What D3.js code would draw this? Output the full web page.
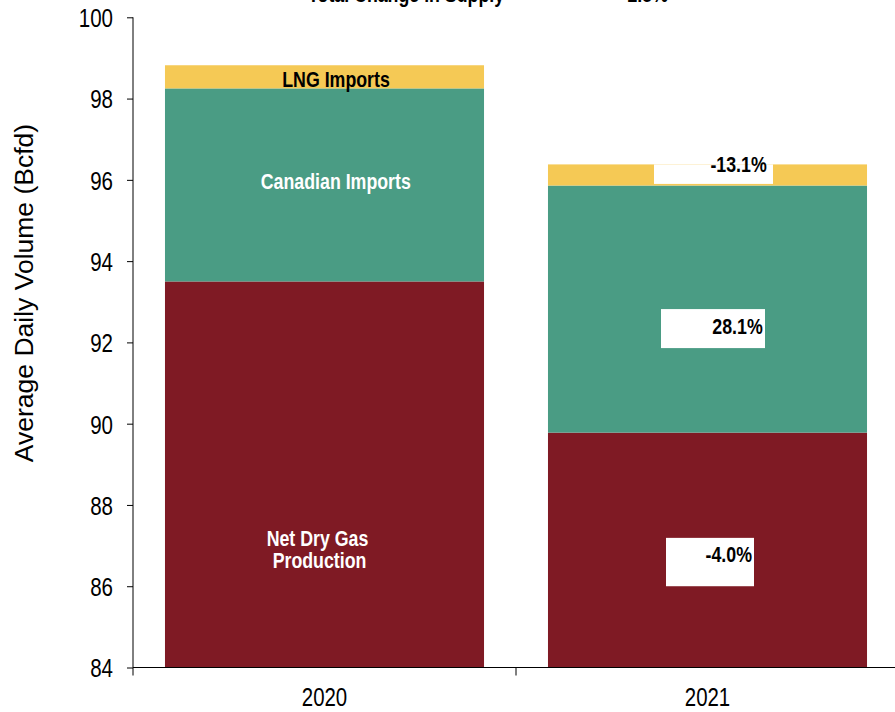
<!DOCTYPE html>
<html><head><meta charset="utf-8">
<script src="https://cdn.jsdelivr.net/npm/d3@7"></script>
<style>
html,body{margin:0;padding:0;background:#fff;}
svg{display:block;}
text{font-family:"Liberation Sans",Arial,sans-serif;}
</style></head>
<body>
<svg id="chart" width="895" height="712"></svg>
<script>
// ---- data ----
const years = ["2020", "2021"];
const seriesNames = ["Net Dry Gas Production", "Canadian Imports", "LNG Imports"];
const production = [93.5, 89.78];
const canadian = [4.75, 6.08];
const lng = [0.57, 0.52];
const yTicks = [84, 86, 88, 90, 92, 94, 96, 98, 100];
const pctLabels = ["-4.0%", "28.1%", "-13.1%"];
const totalLabel = "Total Change in Supply";
const totalPct = "-2.5%";

const colors = ["#7F1A24", "#4A9C84", "#F5C955"];
const SX = 0.79;   // horizontal condensing (narrow face look)

const svg = d3.select("#chart");
const x = d3.scaleBand().domain(years).range([133, 899]).paddingInner(0.167).paddingOuter(0.0835);
const y = d3.scaleLinear().domain([84, 100]).range([667.5, 17.3]);

const rows = years.map((yr, i) => ({year: yr, s0: production[i], s1: canadian[i], s2: lng[i]}));
const stacked = d3.stack().keys(["s0", "s1", "s2"])(rows);

// bars
svg.append("g").selectAll("g").data(stacked).join("g")
  .attr("fill", (d, i) => colors[i])
  .selectAll("rect").data(d => d).join("rect")
  .attr("x", d => x(d.data.year))
  .attr("width", x.bandwidth())
  .attr("y", d => y(d[1]))
  .attr("height", d => y(Math.max(d[0], 84)) - y(d[1]));

// axes
const yAxis = svg.append("g").attr("transform", "translate(133,0)")
  .call(d3.axisLeft(y).tickValues(yTicks).tickSize(6).tickFormat(d3.format("d")));
yAxis.select(".domain").attr("d", `M0,${y(100)}V${y(84)}`).attr("stroke", "#000");
yAxis.selectAll(".tick line").attr("stroke", "#000");
yAxis.selectAll(".tick text")
  .attr("x", null).attr("dy", "0.36em")
  .attr("transform", `translate(-20,0) scale(${SX},1)`)
  .attr("font-size", 26).attr("fill", "#000")
  .attr("font-family", "'Liberation Sans', Arial, sans-serif");

const xAxis = svg.append("g").attr("transform", `translate(0,${y(84)})`);
xAxis.append("line").attr("x1", 133).attr("x2", 899).attr("stroke", "#000");
const bounds = [133, x("2021") - x.step() * x.paddingInner() / 2, 899];
xAxis.selectAll("line.tk").data(bounds).join("line").attr("class", "tk")
  .attr("x1", d => d).attr("x2", d => d).attr("y1", 0).attr("y2", 8).attr("stroke", "#000");
xAxis.selectAll("text").data(years).join("text")
  .attr("font-size", 25.5)
  .attr("transform", d => `translate(${x(d) + x.bandwidth() / 2},38.5) scale(${SX + 0.01},1)`)
  .attr("text-anchor", "middle").text(d => d);

// y title
svg.append("text")
  .attr("transform", `translate(33,293) rotate(-90)`)
  .attr("text-anchor", "middle")
  .attr("font-size", 26.5)
  .text("Average Daily Volume (Bcfd)");

// segment labels on 2020 bar
const c0 = x("2020") + x.bandwidth() / 2;
const segLabels = [
  {t: "LNG Imports", dx: 11.5, v: 98.28, fill: "#000"},
  {t: "Canadian Imports", dx: 11.3, v: 95.77, fill: "#fff"},
  {t: "Net Dry Gas", dx: -7, v: 86.99, fill: "#fff"},
  {t: "Production", dx: -5, v: 86.44, fill: "#fff"}
];
svg.append("g").selectAll("text").data(segLabels).join("text")
  .attr("font-weight", "bold").attr("font-size", 22.5)
  .attr("text-anchor", "middle").attr("fill", d => d.fill)
  .attr("transform", d => `translate(${c0 + d.dx},${y(d.v)}) scale(${SX},1)`)
  .text(d => d.t);

// percent change boxes on 2021 bar
const c1 = x("2021") + x.bandwidth() / 2;
const boxes = [
  {t: pctLabels[0], l: -41.5, r: 46.5, top: 87.19, bot: 86.0, tx: 44.5, base: 86.60},
  {t: pctLabels[1], l: -46.5, r: 57.5, top: 92.82, bot: 91.86, tx: 55.2, base: 92.2},
  {t: pctLabels[2], l: -53.5, r: 65.5, top: 96.38, bot: 95.9, tx: 59.2, base: 96.2}
];
const bg = svg.append("g");
bg.selectAll("rect").data(boxes).join("rect")
  .attr("fill", "#fff")
  .attr("x", d => c1 + d.l).attr("width", d => d.r - d.l)
  .attr("y", d => y(d.top)).attr("height", d => y(d.bot) - y(d.top));
bg.selectAll("text").data(boxes).join("text")
  .attr("font-weight", "bold").attr("font-size", 22.5)
  .attr("text-anchor", "end")
  .attr("transform", d => `translate(${c1 + d.tx},${y(d.base)}) scale(${SX},1)`)
  .text(d => d.t);

// total change header (partially clipped at top, as in the source)
svg.append("text").attr("font-weight", "bold").attr("font-size", 22.5)
  .attr("transform", `translate(308,2) scale(${SX},1)`).text(totalLabel);
svg.append("text").attr("font-weight", "bold").attr("font-size", 22.5)
  .attr("text-anchor", "end")
  .attr("transform", `translate(668,2) scale(${SX},1)`).text(totalPct);
</script>
</body></html>
